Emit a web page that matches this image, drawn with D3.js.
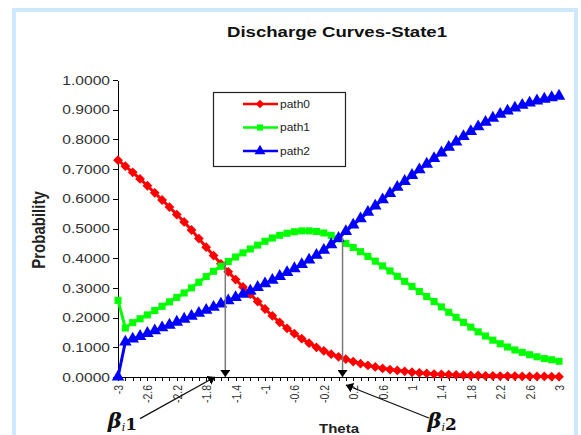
<!DOCTYPE html>
<html>
<head>
<meta charset="utf-8">
<title>Discharge Curves-State1</title>
<script src="https://d3js.org/d3.v7.min.js"></script>
<style>
  body { margin: 0; background: #fff; }
  svg { display: block; font-family: "Liberation Sans", Arial, sans-serif; }
  .axis path, .axis line { stroke: #000; shape-rendering: crispEdges; }
</style>
</head>
<body>
<div id="chart"></div>
<script>
// theta categories (step 0.1)
const theta = [-3,-2.9,-2.8,-2.7,-2.6,-2.5,-2.4,-2.3,-2.2,-2.1,
  -2,-1.9,-1.8,-1.7,-1.6,-1.5,-1.4,-1.3,-1.2,-1.1,
  -1,-0.9,-0.8,-0.7,-0.6,-0.5,-0.4,-0.3,-0.2,-0.1,
  0,0.1,0.2,0.3,0.4,0.5,0.6,0.7,0.8,0.9,
  1,1.1,1.2,1.3,1.4,1.5,1.6,1.7,1.8,1.9,
  2,2.1,2.2,2.3,2.4,2.5,2.6,2.7,2.8,2.9,3];

const path0 = [0.730,0.710,0.689,0.667,0.644,0.620,0.596,0.572,0.547,0.522,
  0.495,0.466,0.437,0.409,0.381,0.354,0.328,0.303,0.279,0.254,
  0.229,0.206,0.184,0.164,0.146,0.129,0.114,0.100,0.088,0.077,
  0.068,0.060,0.052,0.045,0.039,0.034,0.029,0.025,0.022,0.019,
  0.016,0.014,0.012,0.010,0.009,0.008,0.007,0.006,0.005,0.005,
  0.004,0.004,0.003,0.003,0.003,0.002,0.002,0.002,0.002,0.001,0.001];

const path1 = [0.258,0.165,0.183,0.196,0.209,0.224,0.238,0.253,0.268,0.283,
  0.300,0.319,0.338,0.356,0.373,0.389,0.404,0.418,0.431,0.444,
  0.457,0.468,0.477,0.484,0.489,0.492,0.492,0.490,0.485,0.477,
  0.465,0.450,0.436,0.422,0.406,0.390,0.374,0.357,0.339,0.322,
  0.305,0.288,0.271,0.254,0.236,0.218,0.201,0.184,0.168,0.152,
  0.138,0.124,0.112,0.101,0.091,0.083,0.075,0.068,0.062,0.058,0.053];

const path2 = [0.000,0.118,0.128,0.137,0.147,0.156,0.166,0.175,0.185,0.195,
  0.205,0.215,0.225,0.235,0.246,0.257,0.268,0.279,0.290,0.302,
  0.314,0.326,0.339,0.352,0.365,0.379,0.394,0.410,0.427,0.446,
  0.467,0.490,0.512,0.533,0.555,0.576,0.597,0.618,0.639,0.659,
  0.679,0.698,0.717,0.736,0.755,0.774,0.792,0.810,0.827,0.843,
  0.858,0.872,0.885,0.896,0.906,0.915,0.923,0.930,0.936,0.941,0.946];

const xTickLabels = [-3,-2.6,-2.2,-1.8,-1.4,-1,-0.6,-0.2,0.2,0.6,1,1.4,1.8,2.2,2.6,3];
const yTicks = [0,0.1,0.2,0.3,0.4,0.5,0.6,0.7,0.8,0.9,1];

// crossing points marked by the arrows (theta, probability)
const betaNames = ["1", "2"];
const betaTheta = [-1.54, 0.055];
const betaProb = [0.39, 0.47];

const W = 581, H = 435;
const SX = 1.2; // text in the source is stretched horizontally

const svg = d3.select("#chart").append("svg")
  .attr("width", W).attr("height", H);

svg.append("rect")
  .attr("x", 14).attr("y", 10).attr("width", 562).attr("height", 440)
  .attr("fill", "#fff").attr("stroke", "#cde8fa").attr("stroke-width", 4);

const x = d3.scaleLinear().domain([-3, 3]).range([118, 559]);
const y = d3.scaleLinear().domain([0, 1]).range([377, 80]);

function stretchedText(px, py, str) {
  return svg.append("text")
    .attr("transform", `translate(${px},${py}) scale(${SX},1)`)
    .text(str);
}

stretchedText(337, 37, "Discharge Curves-State1")
  .attr("text-anchor", "middle").attr("font-size", 15.5)
  .attr("font-weight", "bold").attr("fill", "#111");

// y axis
const yAxis = svg.append("g").attr("class", "axis")
  .attr("transform", `translate(${x(-3)},0)`)
  .call(d3.axisLeft(y).tickValues(yTicks).tickFormat(d3.format(".4f")).tickSize(5).tickSizeOuter(0));
yAxis.selectAll("text")
  .attr("font-size", 13).attr("font-family", "Liberation Sans, Arial, sans-serif")
  .attr("fill", "#333")
  .attr("x", -8 / SX)
  .attr("transform", `scale(${SX},1)`);

// x axis
const labelSet = new Set(xTickLabels.map(String));
const xAxis = svg.append("g").attr("class", "axis")
  .attr("transform", `translate(0,${y(0)})`)
  .call(d3.axisBottom(x).tickValues(theta)
    .tickFormat(d => labelSet.has(String(d)) ? String(d) : "")
    .tickSize(4).tickSizeOuter(0));
xAxis.selectAll("text")
  .attr("font-size", 10.5).attr("font-family", "Liberation Sans, Arial, sans-serif")
  .attr("fill", "#333")
  .attr("text-anchor", "end")
  .attr("x", -8).attr("y", 0).attr("dy", "0.35em")
  .attr("transform", `scale(${SX},1) rotate(-90)`);

// axis titles
svg.append("text")
  .attr("transform", `translate(39,230) scale(${SX},1) rotate(-90)`)
  .attr("text-anchor", "middle").attr("dy", "0.35em")
  .attr("font-size", 15).attr("font-weight", "bold").attr("fill", "#222")
  .text("Probability");
stretchedText(339, 433, "Theta")
  .attr("text-anchor", "middle").attr("font-size", 12.5)
  .attr("font-weight", "bold").attr("fill", "#222");

// series
const series = [
  { name: "path0", values: path0, color: "#ff0000", symbol: d3.symbolSquare, size: 48, rot: 45 },
  { name: "path1", values: path1, color: "#00ff00", symbol: d3.symbolSquare, size: 50, rot: 0 },
  { name: "path2", values: path2, color: "#0000ff", symbol: d3.symbolTriangle, size: 68, rot: 0 }
];

const line = d3.line().x(d => x(d[0])).y(d => y(d[1]));

series.forEach(s => {
  const pts = theta.map((t, i) => [t, s.values[i]]);
  const g = svg.append("g");
  g.append("path").datum(pts)
    .attr("d", line).attr("fill", "none")
    .attr("stroke", s.color).attr("stroke-width", 3);
  g.selectAll("path.m").data(pts).enter().append("path")
    .attr("class", "m")
    .attr("d", d3.symbol(s.symbol, s.size))
    .attr("transform", d => `translate(${x(d[0])},${y(d[1])}) rotate(${s.rot})`)
    .attr("fill", s.color);
});

// legend
const lg = svg.append("g");
lg.append("rect").attr("x", 213.5).attr("y", 92.5).attr("width", 132).attr("height", 74)
  .attr("fill", "#fff").attr("stroke", "#222").attr("stroke-width", 1.2);
series.forEach((s, i) => {
  const ly = 104 + i * 23.5;
  lg.append("line").attr("x1", 243).attr("x2", 278).attr("y1", ly).attr("y2", ly)
    .attr("stroke", s.color).attr("stroke-width", 2.5);
  lg.append("path").attr("d", d3.symbol(s.symbol, s.size * 0.75))
    .attr("transform", `translate(260,${ly}) rotate(${s.rot})`).attr("fill", s.color);
  lg.append("text")
    .attr("transform", `translate(280,${ly}) scale(${SX},1)`)
    .attr("dy", "0.35em").attr("font-size", 10).attr("fill", "#222")
    .text(s.name);
});

// arrow head
svg.append("defs").append("marker")
  .attr("id", "head").attr("viewBox", "0 0 10 10")
  .attr("refX", 10).attr("refY", 5)
  .attr("markerWidth", 7).attr("markerHeight", 10)
  .attr("markerUnits", "userSpaceOnUse")
  .attr("preserveAspectRatio", "none")
  .attr("orient", "auto")
  .append("path").attr("d", "M0,0L10,5L0,10Z").attr("fill", "#000");

// vertical drop lines at the crossings
betaTheta.forEach((t, i) => {
  svg.append("line")
    .attr("x1", x(t)).attr("x2", x(t))
    .attr("y1", y(betaProb[i])).attr("y2", y(0))
    .attr("stroke", "#7a7a7a").attr("stroke-width", 1.5)
    .attr("marker-end", "url(#head)");
});

// beta pointers (label position and tip in data units)
const pointerFrom = [[-2.7, -0.14], [1.23, -0.138]];
const pointerTo = [[-1.68, 0.0], [0.1, -0.027]];
const labelAt = [[-3.14, -0.172], [1.21, -0.172]];

betaNames.forEach((nm, i) => {
  svg.append("line")
    .attr("x1", x(pointerFrom[i][0])).attr("y1", y(pointerFrom[i][1]))
    .attr("x2", x(pointerTo[i][0])).attr("y2", y(pointerTo[i][1]))
    .attr("stroke", "#111").attr("stroke-width", 1.3)
    .attr("marker-end", "url(#head)");
  const t = svg.append("text")
    .attr("x", x(labelAt[i][0])).attr("y", y(labelAt[i][1]))
    .attr("font-family", "DejaVu Serif, serif").attr("fill", "#111");
  t.append("tspan").attr("font-size", 21).attr("font-style", "italic").attr("font-weight", "bold").text("\u03B2");
  t.append("tspan").attr("font-size", 11).attr("font-style", "italic").attr("dy", 3).text("i");
  t.append("tspan").attr("font-size", 17).attr("font-weight", "bold").attr("dy", -1).text(nm);
});
</script>
</body>
</html>
